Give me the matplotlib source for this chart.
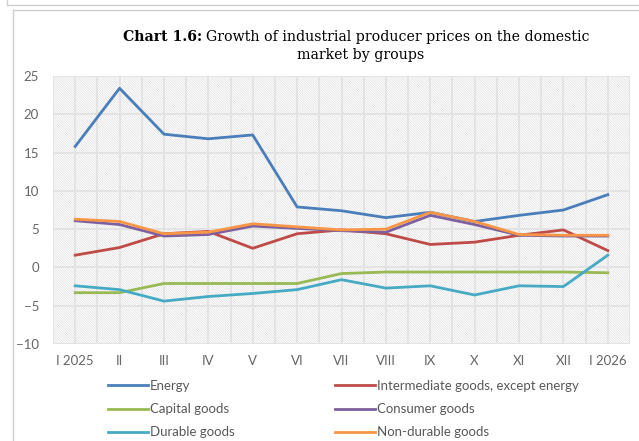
import matplotlib.pyplot as plt
from matplotlib.lines import Line2D
import numpy as np

months = ['I 2025', 'II', 'III', 'IV', 'V', 'VI', 'VII', 'VIII', 'IX', 'X', 'XI', 'XII', 'I 2026']

energy = [15.8, 23.4, 17.4, 16.8, 17.3, 7.9, 7.4, 6.5, 7.2, 6.0, 6.8, 7.5, 9.5]
intermediate = [1.6, 2.6, 4.4, 4.7, 2.5, 4.4, 4.9, 4.4, 3.0, 3.3, 4.2, 4.9, 2.2]
capital = [-3.3, -3.3, -2.1, -2.1, -2.1, -2.1, -0.8, -0.6, -0.6, -0.6, -0.6, -0.6, -0.7]
consumer = [6.1, 5.6, 4.1, 4.3, 5.4, 5.1, 4.8, 4.6, 6.8, 5.6, 4.2, 4.1, 4.1]
durable = [-2.4, -2.9, -4.4, -3.8, -3.4, -2.9, -1.6, -2.7, -2.4, -3.6, -2.4, -2.5, 1.6]
non_durable = [6.3, 6.0, 4.4, 4.6, 5.7, 5.3, 4.9, 5.0, 7.2, 6.0, 4.3, 4.2, 4.2]

series = [
    ('Energy', energy, '#4a7ebb'),
    ('Intermediate goods, except energy', intermediate, '#be4b48'),
    ('Capital goods', capital, '#98b954'),
    ('Consumer goods', consumer, '#7d60a0'),
    ('Durable goods', durable, '#46aac5'),
    ('Non-durable goods', non_durable, '#f79646'),
]

plt.rcParams['hatch.linewidth'] = 0.4

fig = plt.figure(figsize=(6.39, 4.41), dpi=100)
W, H = 639, 441

# outer frame lines
frame = '#d0d0d0'
fig.add_artist(Line2D([7 / W, 7 / W], [1, 1 - 5 / H], color=frame, lw=1))
fig.add_artist(Line2D([7 / W, 1], [1 - 5 / H, 1 - 5 / H], color=frame, lw=1))
fig.add_artist(Line2D([13 / W, 13 / W], [0, 1 - 10 / H], color=frame, lw=1))
fig.add_artist(Line2D([13 / W, 1], [1 - 10 / H, 1 - 10 / H], color=frame, lw=1))

ax = fig.add_axes([53 / W, 1 - 344 / H, (630 - 53) / W, (344 - 76) / H])

ax.patch.set_facecolor('white')
ax.patch.set_hatch('\\' * 14)
ax.patch.set_edgecolor('#d8d8d8')
for s in ax.spines.values():
    s.set_visible(False)

x = np.arange(len(months))
for name, vals, col in series:
    ax.plot(x, vals, color=col, lw=2.0, label=name, zorder=3)

ax.set_xlim(-0.5, len(months) - 0.5)
ax.set_ylim(-10, 25)
ax.set_yticks(np.arange(-10, 26, 5))
ax.set_xticks(x)
ax.set_xticklabels(months)
ax.set_xticks(np.arange(-0.5, len(months), 1), minor=True)
ax.grid(True, which='major', color='#e2e2e2', lw=1.3, zorder=1)
ax.grid(True, which='minor', axis='x', color='#e2e2e2', lw=1.3, zorder=1)
ax.set_axisbelow(True)
ax.tick_params(which='both', length=0, colors='#666666', labelsize=9.5)
ax.tick_params(axis='x', pad=8)
ax.tick_params(axis='y', pad=10)
for lbl in ax.get_xticklabels() + ax.get_yticklabels():
    lbl.set_family('Lato')

# title: bold prefix followed by regular text
t1 = fig.text(123 / W, 1 - 37 / H, 'Chart 1.6:', ha='left', va='center',
              fontsize=10.2, family='DejaVu Serif', weight='bold')
fig.canvas.draw()
bb = t1.get_window_extent()
fig.text((bb.x1 + 4) / W, 1 - 37 / H,
         'Growth of industrial producer prices on the domestic',
         ha='left', va='center', fontsize=10.2, family='DejaVu Serif')
fig.text(361 / W, 1 - 55 / H, 'market by groups', ha='center', va='center',
         fontsize=10.2, family='DejaVu Serif')

# legend in two columns, filled row by row
legend_kw = dict(loc='upper left', frameon=False, handlelength=3.0,
                 handletextpad=0.15, labelspacing=0.85, borderpad=0,
                 borderaxespad=0, labelcolor='#595959',
                 prop={'family': 'Lato', 'size': 9.5})
for col, x0 in ((0, 108), (1, 335)):
    part = series[col::2]
    fig.legend([Line2D([], [], color=c, lw=2.0) for _, _, c in part],
               [n for n, _, _ in part], bbox_to_anchor=(x0 / W, 1 - 380 / H),
               **legend_kw)

fig.savefig('out.png', dpi=100)
